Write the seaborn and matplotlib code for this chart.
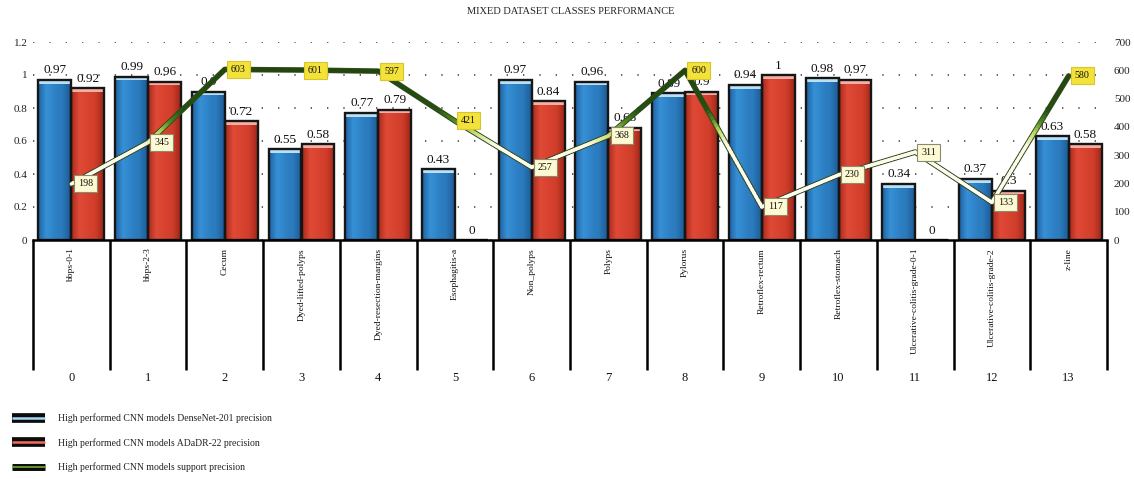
import numpy as np
import pandas as pd
import matplotlib
matplotlib.use("Agg")
import matplotlib.pyplot as plt
import matplotlib.transforms as mtransforms
import seaborn as sns
from matplotlib.collections import LineCollection
from matplotlib.colors import LinearSegmentedColormap, Normalize
from matplotlib.lines import Line2D
from matplotlib.legend_handler import HandlerTuple
from matplotlib.patches import Rectangle

# ---- data -------------------------------------------------------------
classes = ["bbps-0-1", "bbps-2-3", "Cecum", "Dyed-lifted-polyps",
           "Dyed-resection-margins", "Esophagitis-a", "Non_polyps", "Polyps",
           "Pylorus", "Retroflex-rectum", "Retroflex-stomach",
           "Ulcerative-colitis-grade-0-1", "Ulcerative-colitis-grade-2", "z-line"]
class_ids = [str(i) for i in range(len(classes))]
densenet_precision = [0.97, 0.99, 0.9, 0.55, 0.77, 0.43, 0.97, 0.96, 0.89,
                      0.94, 0.98, 0.34, 0.37, 0.63]
adadr_precision = [0.92, 0.96, 0.72, 0.58, 0.79, 0, 0.84, 0.68, 0.9,
                   1, 0.97, 0, 0.3, 0.58]
support = [198, 345, 603, 601, 597, 421, 257, 368, 600, 117, 230, 311, 133, 580]
series_names = ["High performed CNN models DenseNet-201 precision",
                "High performed CNN models ADaDR-22 precision",
                "High performed CNN models support precision"]
precision_ticks = [0, 0.2, 0.4, 0.6, 0.8, 1.0, 1.2]
support_ticks = [0, 100, 200, 300, 400, 500, 600, 700]
title = "MIXED DATASET CLASSES PERFORMANCE"

# ---- style ------------------------------------------------------------
sns.set_theme(style="white")
plt.rcParams["font.family"] = ["Liberation Serif", "DejaVu Serif"]

W, H = 1134, 479
fig = plt.figure(figsize=(W / 100, H / 100), dpi=100)
ax = fig.add_axes([33 / W, 1 - 240 / H, (1107 - 33) / W, 198 / H])

blue, red = "#2d7ec2", "#d7412e"
df = pd.DataFrame({
    "cls": classes * 2,
    "precision": densenet_precision + adadr_precision,
    "model": [series_names[0]] * len(classes) + [series_names[1]] * len(classes),
})
sns.barplot(data=df, x="cls", y="precision", hue="model", hue_order=series_names[:2],
            palette=[blue, red], saturation=1, width=0.86, legend=False, ax=ax,
            edgecolor="#161616", linewidth=1.7)

# glossy shading on each bar
shade = np.linspace(0, 1, 64).reshape(1, -1)
cmaps = [
    LinearSegmentedColormap.from_list("bl", ["#1f62a3", "#3791d6", "#2f82c6", "#2a79bb", "#1d5a95"]),
    LinearSegmentedColormap.from_list("rd", ["#a92a1d", "#e04a36", "#d8432f", "#cf3d2a", "#9e2719"]),
]
tops = ["#b9e0f7", "#f6aea3"]
values = [densenet_precision, adadr_precision]
n = len(classes)
bars = list(ax.patches)
for k, p in enumerate(bars):
    series = k // n
    x0, w, h = p.get_x(), p.get_width(), p.get_height()
    if h > 0:
        im = ax.imshow(shade, cmap=cmaps[series], extent=(x0, x0 + w, 0, h),
                       aspect="auto", zorder=2, interpolation="bicubic")
        im.set_clip_path(p)
        band = min(0.022, h)
        ax.add_patch(Rectangle((x0, h - band), w, band, facecolor=tops[series],
                               edgecolor="none", zorder=2.5))
    p.set_facecolor("none")
    p.set_zorder(3)
    v = values[series][k % n]
    ax.annotate(f"{v:g}", (x0 + w / 2, v), xytext=(0, 2.5), textcoords="offset points",
                ha="center", va="bottom", fontsize=9.5, color="#111", zorder=4)

ax.set_xlim(-0.5, n - 0.5)
ax.set_ylim(0, 1.2)
ax.set_yticks(precision_ticks)
ax.set_yticklabels([f"{t:g}" for t in precision_ticks])
ax.tick_params(axis="y", length=0, pad=4, labelsize=8, colors="#222")
ax.set_xticks([])
ax.set_xlabel("")
ax.set_ylabel("")
ax.yaxis.grid(True, linestyle=(0, (0.8, 9)), color="#444444", linewidth=1.2)
ax.xaxis.grid(False)
ax.set_axisbelow(True)
for side in ["top", "left", "right"]:
    ax.spines[side].set_visible(False)
ax.spines["bottom"].set_color("black")
ax.spines["bottom"].set_linewidth(1.8)
ax.spines["bottom"].set_zorder(5)

# table under the axis: class names and indices between vertical rules
trans = mtransforms.blended_transform_factory(ax.transData, ax.transAxes)
ax.vlines(np.arange(-0.5, n), -130 / 198, 0, transform=trans, colors="black",
          linewidth=1.8, clip_on=False)
for i, (name, idx) in enumerate(zip(classes, class_ids)):
    ax.text(i, -8 / 198, name, rotation=90, ha="center", va="top",
            transform=trans, fontsize=6.8, color="#111")
    ax.text(i, -138 / 198, idx, ha="center", va="center",
            transform=trans, fontsize=9, color="#111")

# support line on the secondary axis
ax2 = ax.twinx()
xs = np.arange(n)
sns.lineplot(x=xs, y=support, ax=ax2, color="#34471f", linewidth=4.0,
             zorder=3, legend=False)
ramp = LinearSegmentedColormap.from_list(
    "sup", [(0, "#ffffff"), (0.48, "#fbfbe6"), (0.55, "#b8d85a"),
            (0.6, "#4f8a22"), (0.66, "#24500f"), (1, "#1d420b")])
norm = Normalize(0, 700)
segs, cols = [], []
for i in range(n - 1):
    t = np.linspace(0, 1, 41)
    px = xs[i] + (xs[i + 1] - xs[i]) * t
    py = support[i] + (support[i + 1] - support[i]) * t
    pts = np.column_stack([px, py])
    for j in range(len(t) - 1):
        segs.append(pts[j:j + 2])
        cols.append(ramp(norm((py[j] + py[j + 1]) / 2)))
lc = LineCollection(segs, colors=cols, linewidths=2.5, capstyle="round",
                    joinstyle="round", zorder=4)
ax2.add_collection(lc)
for i, v in enumerate(support):
    bright = v > 400
    ax2.annotate(f"{v}", (xs[i], v), xytext=(4.5, 0), textcoords="offset points",
                 ha="left", va="center", fontsize=7.2, color="#111", zorder=6,
                 bbox=dict(boxstyle="square,pad=0.4",
                           fc="#f3e23a" if bright else "#fdf9d2",
                           ec="#d9c52a" if bright else "#8a8a70", lw=0.8))

ax2.set_ylim(0, 700)
ax2.set_xlim(-0.5, n - 0.5)
ax2.set_yticks(support_ticks)
ax2.set_yticklabels([str(t) for t in support_ticks])
ax2.tick_params(axis="y", length=0, pad=5, labelsize=8, colors="#222")
ax2.set_ylabel("")
ax2.grid(False)
for side in ["top", "left", "right", "bottom"]:
    ax2.spines[side].set_visible(False)

fig.text(0.503, 1 - 11 / H, title, ha="center", va="center", fontsize=7.5, color="#222")


def legend_key(base_lw, accent, accent_lw):
    return (Line2D([], [], color="#0c0c0c", lw=base_lw, solid_capstyle="butt"),
            Line2D([], [], color=accent, lw=accent_lw, solid_capstyle="butt"))


handles = [
    legend_key(7, "#a6d8f7", 1.8),
    legend_key(7, "#f26c5e", 1.8),
    legend_key(5, "#6fae2c", 1.2),
]
fig.legend(handles, series_names, handler_map={tuple: HandlerTuple(ndivide=1)},
           loc="upper left", bbox_to_anchor=(0.003, 1 - 405 / H), frameon=False,
           fontsize=7, handlelength=3.4, labelspacing=1.5, handletextpad=1.3,
           labelcolor="#222")

fig.savefig("out.png", dpi=100)
